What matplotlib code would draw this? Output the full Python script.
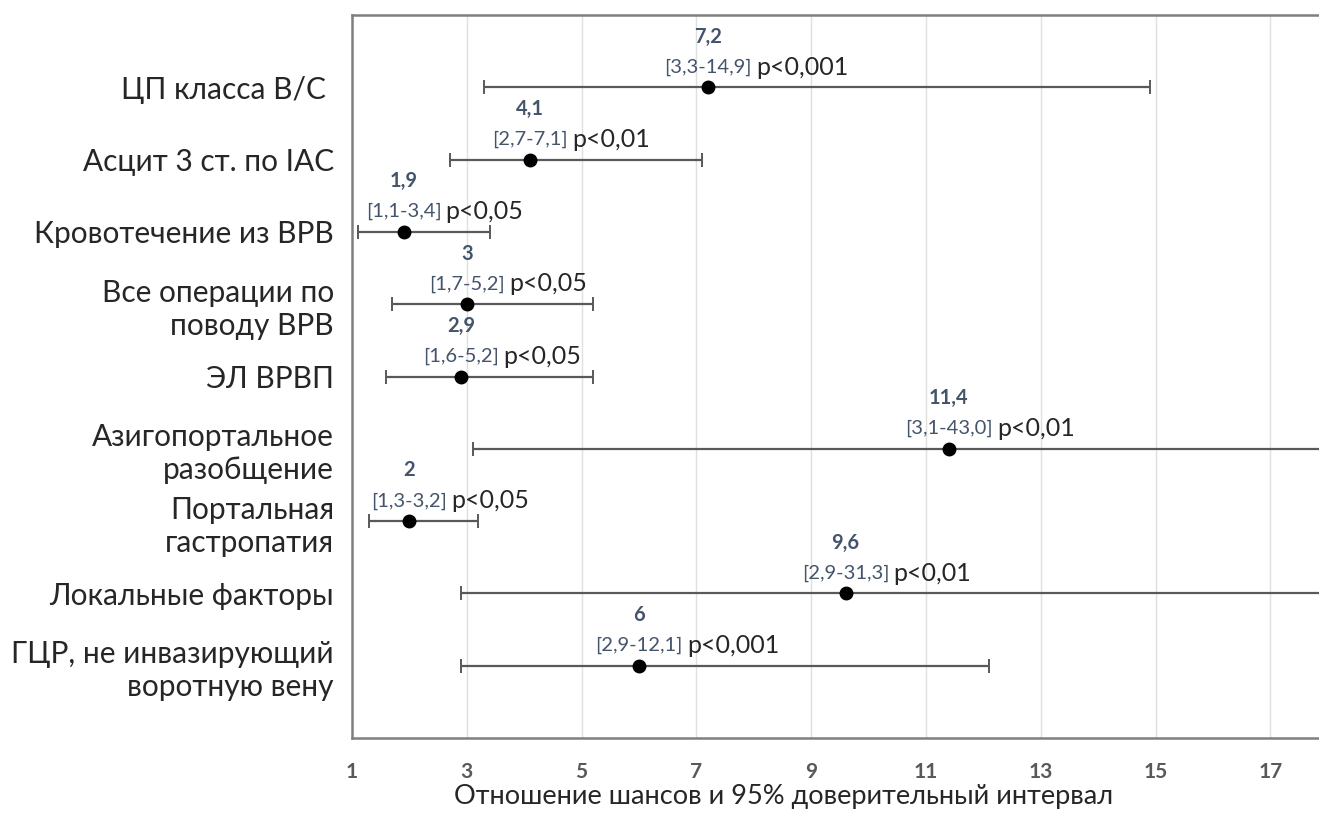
import matplotlib
matplotlib.use("Agg")
import matplotlib.pyplot as plt

plt.rcParams['font.family'] = ['Lato', 'DejaVu Sans']

factors = ['ЦП класса В/С ', 'Асцит 3 ст. по IAC', 'Кровотечение из ВРВ',
           'Все операции по\nповоду ВРВ', 'ЭЛ ВРВП', 'Азигопортальное\nразобщение',
           'Портальная\nгастропатия', 'Локальные факторы',
           'ГЦР, не инвазирующий\nворотную вену']
odds = [7.2, 4.1, 1.9, 3, 2.9, 11.4, 2, 9.6, 6]
ci_low = [3.3, 2.7, 1.1, 1.7, 1.6, 3.1, 1.3, 2.9, 2.9]
ci_high = [14.9, 7.1, 3.4, 5.2, 5.2, 43.0, 3.2, 31.3, 12.1]
odds_labels = ['7,2', '4,1', '1,9', '3', '2,9', '11,4', '2', '9,6', '6']
ci_labels = ['[3,3-14,9]', '[2,7-7,1]', '[1,1-3,4]', '[1,7-5,2]', '[1,6-5,2]',
             '[3,1-43,0]', '[1,3-3,2]', '[2,9-31,3]', '[2,9-12,1]']
p_labels = ['p<0,001', 'p<0,01', 'p<0,05', 'p<0,05', 'p<0,05',
            'p<0,01', 'p<0,05', 'p<0,01', 'p<0,001']
x_ticks = [1, 3, 5, 7, 9, 11, 13, 15, 17]

fig = plt.figure(figsize=(13.19, 8.17), dpi=100)
ax = fig.add_axes([352 / 1319, 1 - 738 / 817, 1 - 352 / 1319, (738 - 15) / 817])

n = len(factors)
ypos = list(range(n, 0, -1))
err = [[o - l for o, l in zip(odds, ci_low)], [h - o for o, h in zip(odds, ci_high)]]

ax.errorbar(odds, ypos, xerr=err, fmt='o', color='black', markersize=9,
            ecolor='#595959', elinewidth=1.6, capsize=5, capthick=1.4, zorder=3)

# value on top, CI under it, p-value right after the CI
for o, y, v, c, p in zip(odds, ypos, odds_labels, ci_labels, p_labels):
    ax.text(o, y + 0.70, v, ha='center', va='center', fontsize=14.5,
            fontweight='bold', color='#44546A')
    t = ax.text(o, y + 0.28, c, ha='center', va='center', fontsize=14.5,
                color='#44546A')
    ax.annotate(p, xy=(1, 0.5), xycoords=t, xytext=(3, 0), textcoords='offset points',
                ha='left', va='center', fontsize=18, color='#262626')

ax.set_xlim(1, 1 + 967 / 57.4)
ax.set_ylim(0, n + 1)
ax.set_xticks(x_ticks)
ax.set_xticklabels([str(v) for v in x_ticks], fontsize=15, fontweight='bold',
                   color='#595959')
ax.set_yticks(ypos)
ax.set_yticklabels(factors, fontsize=21.5, color='#262626', linespacing=1.22)
ax.tick_params(axis='x', length=0, pad=17)
ax.tick_params(axis='y', length=0, pad=13)
ax.grid(axis='x', color='#E0E0E0', linewidth=1.0)
ax.set_axisbelow(True)
ax.spines['right'].set_visible(False)
for s in ['left', 'top', 'bottom']:
    ax.spines[s].set_color('#7F7F7F')
    ax.spines[s].set_linewidth(1.8)
ax.set_xlabel('Отношение шансов и 95% доверительный интервал', fontsize=19.5,
              color='#262626')
ax.xaxis.set_label_coords((784 - 352) / 967, -0.064)

fig.savefig('out.png', dpi=100)
